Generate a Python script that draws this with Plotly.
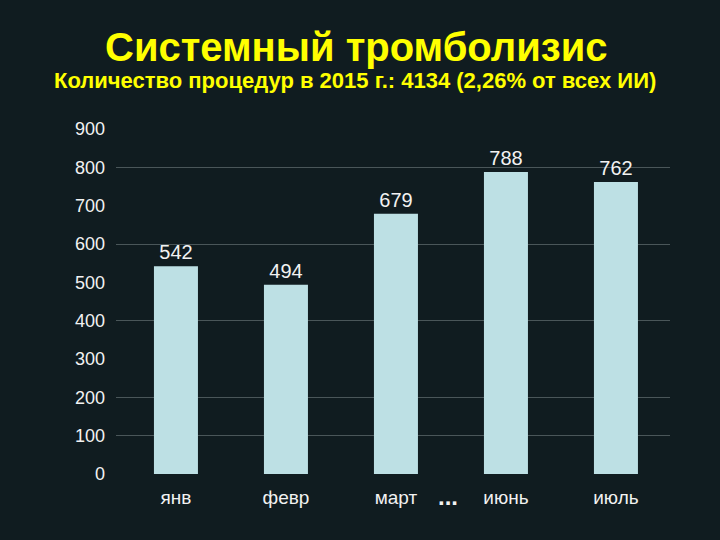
import plotly.graph_objects as go

months = ["янв", "февр", "март", "июнь", "июль"]
counts = [542, 494, 679, 788, 762]
y_ticks = [0, 100, 200, 300, 400, 500, 600, 700, 800, 900]
grid_vals = [100, 200, 400, 600, 800]

title = "Системный тромболизис"
subtitle = "Количество процедур в 2015 г.: 4134 (2,26% от всех ИИ)"

bg = "#101c20"
W, H = 720, 540
L, R, T, B = 116, 50, 129, 66
pw, ph = W - L - R, H - T - B

def xpix(p):
    return (p - L) / pw

def ypix(p):
    return (H - B - p) / ph

fig = go.Figure(go.Bar(
    x=months, y=counts, width=0.4,
    marker=dict(color="#bde0e4", line=dict(width=0)),
    text=[str(v) for v in counts], textposition="outside",
    textfont=dict(color="#f2f2f2", size=20, family="Liberation Sans, Arial"),
    cliponaxis=False,
))
fig.update_layout(
    width=W, height=H,
    paper_bgcolor=bg, plot_bgcolor=bg,
    margin=dict(l=L, r=R, t=T, b=B),
    showlegend=False,
    font=dict(family="Liberation Sans, Arial", color="#f2f2f2", size=18),
    yaxis=dict(range=[0, 900], tickvals=y_ticks, showgrid=False,
               zeroline=False, showline=False, ticklabelstandoff=10,
               tickfont=dict(size=18, color="#f2f2f2")),
    yaxis2=dict(range=[0, 900], tickvals=grid_vals, overlaying="y", side="left",
                showgrid=True, gridcolor="#4a5659", gridwidth=1, showticklabels=False,
                zeroline=False, showline=False),
    xaxis=dict(range=[-0.545, -0.545 + pw / 110], showgrid=False, showline=False,
               zeroline=False, ticklabelstandoff=10,
               tickfont=dict(size=19, color="#f2f2f2")),
    annotations=[
        dict(text="<b>" + title + "</b>", x=xpix(356), y=ypix(47), xref="paper", yref="paper",
             yanchor="middle", showarrow=False,
             font=dict(size=40, color="#ffff00", family="Liberation Sans, Arial")),
        dict(text="<b>" + subtitle + "</b>", x=xpix(355), y=ypix(80), xref="paper", yref="paper",
             yanchor="middle", showarrow=False,
             font=dict(size=22, color="#ffff00", family="Liberation Sans, Arial")),
        dict(text="<b>...</b>", x=xpix(448), y=ypix(496), xref="paper", yref="paper",
             yanchor="middle", showarrow=False,
             font=dict(size=24, color="#f2f2f2")),
    ],
)
# invisible trace to activate the gridline axis
fig.add_trace(go.Scatter(x=[months[0]], y=[0], yaxis="y2", mode="markers",
                         marker=dict(opacity=0), hoverinfo="skip"))
fig.write_html("out.html")
